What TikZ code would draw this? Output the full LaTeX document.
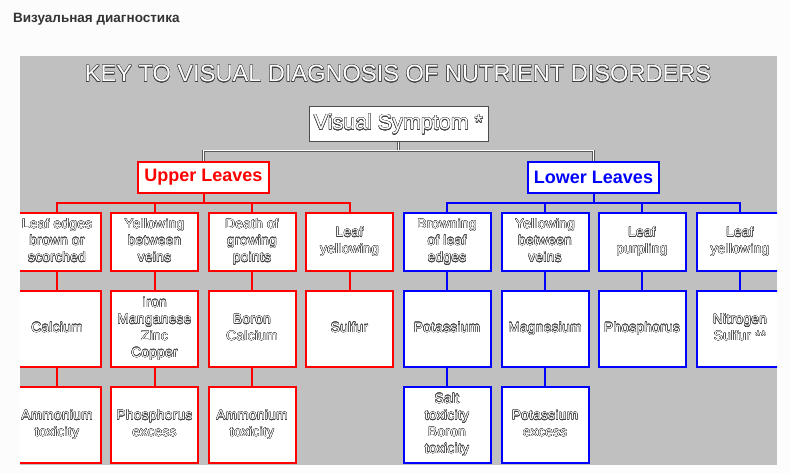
\documentclass[tikz,border=0pt]{standalone}
\usepackage{fontspec}
\setmainfont{Liberation Sans}
\usepackage[copies]{contour}
\contourlength{0.3pt}
\contournumber{16}
\definecolor{panelgray}{HTML}{C0C0C0}
\definecolor{pagebg}{HTML}{FCFCFC}
\definecolor{boxred}{HTML}{FF0000}
\definecolor{boxblue}{HTML}{0000FF}
\newfontfamily\spacedfont[LetterSpace=3]{Liberation Sans}
\newcommand{\outl}[1]{\contour{black!75}{\begin{tabular}{@{}c@{}}#1\end{tabular}}}
\tikzset{
  leafbox/.style={draw, line width=2pt, fill=white, minimum width=87, minimum height=58,
    inner sep=0, text=white, font=\spacedfont\fontsize{13.5}{16.7}\selectfont},
  redbox/.style={leafbox, draw=boxred},
  bluebox/.style={leafbox, draw=boxblue},
  tallbox/.style={minimum height=76},
  headbox/.style={draw, line width=2pt, fill=white, minimum width=131, minimum height=31,
    inner sep=0, font=\bfseries\fontsize{18}{20}\selectfont},
  vsbox/.style={draw=black!70, line width=1pt, fill=white, minimum width=179, minimum height=35,
    inner sep=0, text=white, font=\fontsize{21.5}{24}\selectfont},
  redline/.style={draw=boxred, line width=2pt},
  blueline/.style={draw=boxblue, line width=2pt},
  gline/.style={draw=black!65, line width=0.6pt, double=white, double distance=1pt},
}
\begin{document}
\begin{tikzpicture}[x=1pt,y=-1pt]
\fill[pagebg] (0,0) rectangle (790,473);
\useasboundingbox (0,0) rectangle (790,473);
\node[anchor=base west, inner sep=0, text=black!80, font=\bfseries\fontsize{13.5}{16}\selectfont] (ru) at (13,23) {Визуальная диагностика};
\fill[panelgray] (20,56) rectangle (777,465);
\begin{scope}
\clip (20,56) rectangle (777,465);
\node[anchor=base, inner sep=0, text=white, font=\fontsize{23.6}{28}\selectfont] (title) at (398,82) {\contour{black!75}{KEY TO VISUAL DIAGNOSIS OF NUTRIENT DISORDERS}};
\node[vsbox] (vs) at (398.5,124.5) {\contour{black!75}{Visual Symptom *}};
\node[headbox, draw=boxred, text=boxred] (ul) at (203.5,177.5) {Upper Leaves};
\node[headbox, draw=boxblue, text=boxblue] (ll) at (593.5,177.5) {Lower Leaves};
% row 1
\node[redbox] (r1) at (57,242) {\outl{Leaf edges\\brown or\\scorched}};
\node[redbox] (r2) at (154.5,242) {\outl{Yellowing\\between\\veins}};
\node[redbox] (r3) at (252,242) {\outl{Death of\\growing\\points}};
\node[redbox] (r4) at (349.5,242) {\outl{Leaf\\yellowing}};
\node[bluebox] (b1) at (447,242) {\outl{Browning\\of leaf\\edges}};
\node[bluebox] (b2) at (545,242) {\outl{Yellowing\\between\\veins}};
\node[bluebox] (b3) at (642,242) {\outl{Leaf\\purpling}};
\node[bluebox] (b4) at (740,242) {\outl{Leaf\\yellowing}};
% row 2
\node[redbox, tallbox] (r1c) at (57,329) {\outl{Calcium}};
\node[redbox, tallbox] (r2c) at (154.5,329) {\outl{Iron\\Manganese\\Zinc\\Copper}};
\node[redbox, tallbox] (r3c) at (252,329) {\outl{Boron\\Calcium}};
\node[redbox, tallbox] (r4c) at (349.5,329) {\outl{Sulfur}};
\node[bluebox, tallbox] (b1c) at (447,329) {\outl{Potassium}};
\node[bluebox, tallbox] (b2c) at (545,329) {\outl{Magnesium}};
\node[bluebox, tallbox] (b3c) at (642,329) {\outl{Phosphorus}};
\node[bluebox, tallbox] (b4c) at (740,329) {\outl{Nitrogen\\Sulfur **}};
% row 3
\node[redbox, tallbox] (r1t) at (57,425) {\outl{Ammonium\\toxicity}};
\node[redbox, tallbox] (r2t) at (154.5,425) {\outl{Phosphorus\\excess}};
\node[redbox, tallbox] (r3t) at (252,425) {\outl{Ammonium\\toxicity}};
\node[bluebox, tallbox] (b1t) at (447,425) {\outl{Salt\\toxicity\\Boron\\toxicity}};
\node[bluebox, tallbox] (b2t) at (545,425) {\outl{Potassium\\excess}};
% connectors
\draw[gline] (vs.south) -- ++(0,10);
\draw[gline] (ul.north) -- ++(0,-10) -| (ll.north);
\foreach \n in {r1,r2,r3,r4} \draw[redline] (ul.south) -- ++(0,9) -| (\n.north);
\foreach \n in {b1,b2,b3,b4} \draw[blueline] (ll.south) -- ++(0,9) -| (\n.north);
\foreach \n in {r1,r2,r3,r4} \draw[redline] (\n.south) -- (\n c.north);
\foreach \n in {b1,b2,b3,b4} \draw[blueline] (\n.south) -- (\n c.north);
\foreach \n in {r1,r2,r3} \draw[redline] (\n c.south) -- (\n t.north);
\foreach \n in {b1,b2} \draw[blueline] (\n c.south) -- (\n t.north);
\end{scope}
\end{tikzpicture}
\end{document}
